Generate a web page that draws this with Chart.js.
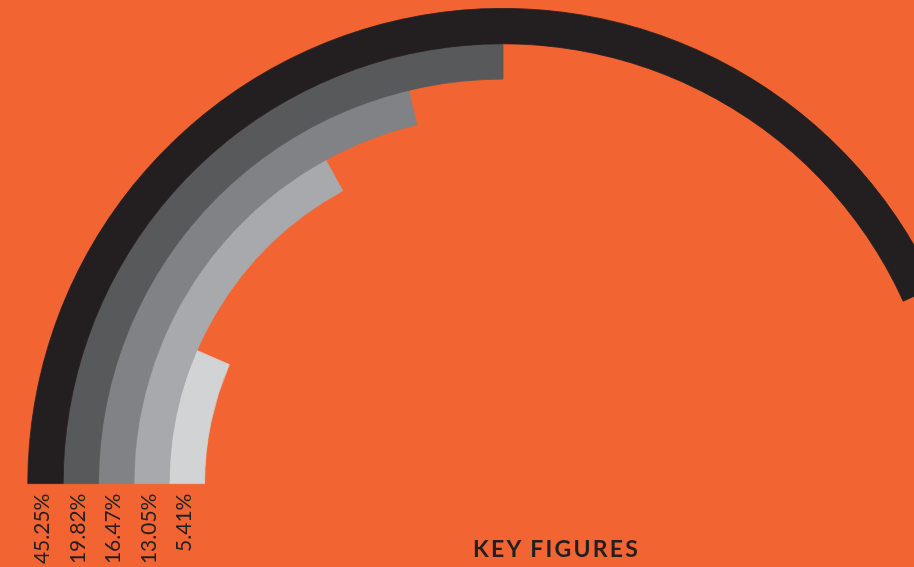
<!DOCTYPE html>
<html>
<head>
<meta charset="utf-8">
<script src="https://cdn.jsdelivr.net/npm/chart.js@4"></script>
<style>
  html, body { margin: 0; padding: 0; width: 914px; height: 567px; overflow: hidden; background: #F26432; }
  #wrap { position: absolute; left: 27px; top: 8px; width: 952px; height: 559px; }
  #title { position: absolute; left: 473px; top: 537px; font-family: Lato, "Open Sans", sans-serif; font-weight: 700; font-size: 23px; letter-spacing: 2.2px; color: #231F20; white-space: nowrap; line-height: 1; }
</style>
</head>
<body>
<div id="wrap"><canvas id="c" width="952" height="559"></canvas></div>
<div id="title">KEY FIGURES</div>
<script>
// Category shares (labels under each ring)
const categories = ['45.25%', '19.82%', '16.47%', '13.05%', '5.41%'];
const values = [45.25, 19.82, 16.47, 13.05, 5.41];
// Arc sweep of each ring (degrees of a 180° half circle)
const arcSweepDeg = [155.5, 90, 76.5, 61.3, 23.5];
const halfCircle = 180;
const ringColors = ['#231F20', '#58595B', '#808285', '#A7A9AC', '#D1D3D4'];

const datasets = arcSweepDeg.map((s, i) => ({
  label: categories[i],
  data: [s, halfCircle - s],
  backgroundColor: [ringColors[i], 'rgba(0,0,0,0)'],
  borderColor: [ringColors[i], 'rgba(0,0,0,0)'],
  borderWidth: [0.8, 0],
  borderJoinStyle: 'miter',
  hoverOffset: 0
}));

const labelPlugin = {
  id: 'ringLabels',
  afterDraw(chart) {
    const ctx = chart.ctx;
    ctx.save();
    ctx.fillStyle = '#231F20';
    ctx.font = '400 21px Lato, "Open Sans", sans-serif';
    chart.data.datasets.forEach((ds, i) => {
      const arc = chart.getDatasetMeta(i).data[0];
      const p = arc.getProps(['x', 'y', 'innerRadius', 'outerRadius'], true);
      const mid = (p.innerRadius + p.outerRadius) / 2;
      const lx = p.x - mid + 4;
      const ly = p.y + 10;
      ctx.save();
      ctx.translate(lx, ly);
      ctx.rotate(-Math.PI / 2);
      ctx.textAlign = 'right';
      ctx.textBaseline = 'alphabetic';
      ctx.fillText(values[i].toFixed(2) + '%', 0, 0);
      ctx.restore();
    });
    ctx.restore();
  }
};

new Chart(document.getElementById('c'), {
  type: 'doughnut',
  data: { labels: ['value', 'rest'], datasets },
  options: {
    responsive: false,
    animation: false,
    circumference: 180,
    rotation: -90,
    cutout: '62.8%',
    layout: { padding: { bottom: 83 } },
    plugins: { legend: { display: false }, tooltip: { enabled: false } },
    events: []
  },
  plugins: [labelPlugin]
});
</script>
</body>
</html>
